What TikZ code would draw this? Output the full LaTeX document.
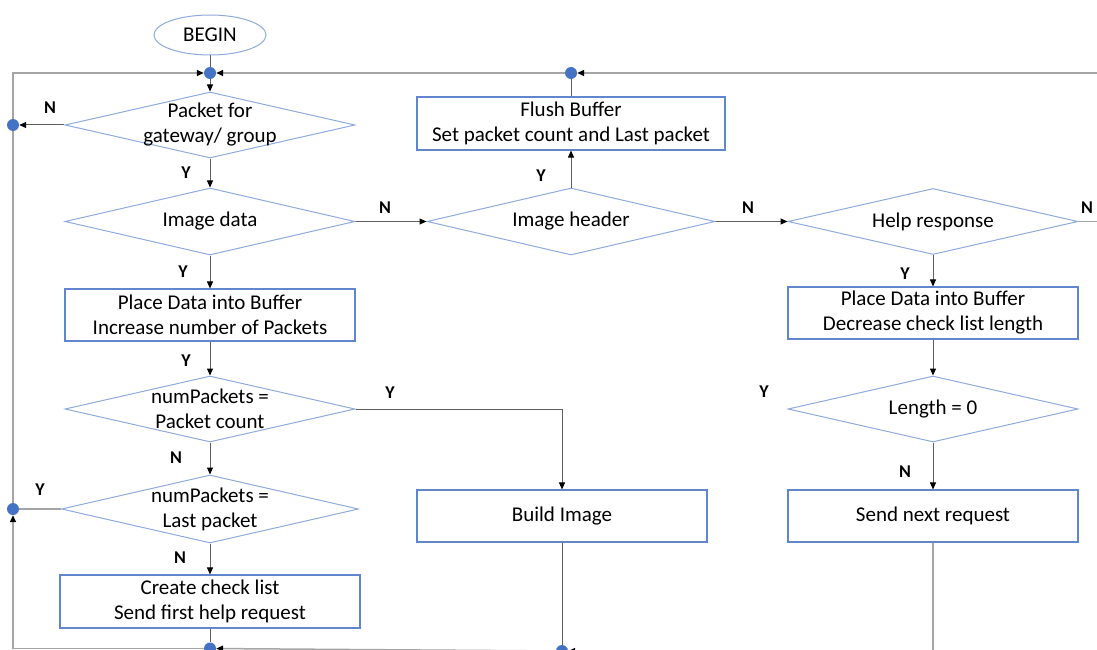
\documentclass[tikz,border=0pt]{standalone}
\usepackage{fontspec}
\setmainfont{Carlito}
\definecolor{blue1}{RGB}{68, 114, 196}
\definecolor{blue2}{RGB}{143, 170, 220}
\definecolor{gray1}{RGB}{95, 95, 95}
\definecolor{gray2}{RGB}{165, 165, 165}
\usepackage{tikz}
\usetikzlibrary{shapes.geometric, arrows.meta}

\tikzset{
  procbox/.style={draw=blue1!85, line width=1.1pt, minimum width=290pt, minimum height=52pt, align=center, inner sep=0pt, font=\fontsize{21}{25}\selectfont},
  decision/.style={diamond, draw=blue2, line width=1pt, minimum width=290pt, minimum height=66pt, inner sep=0pt},
  dtext/.style={align=center, inner sep=0pt, font=\fontsize{21}{25}\selectfont},
  jdot/.style={circle, fill=blue1, minimum size=12pt, inner sep=0pt},
  yn/.style={font=\fontsize{18}{20}\selectfont\bfseries},
  conn/.style={draw=gray1, line width=1pt},
  loopline/.style={draw=gray2, line width=1.5pt},
  arr/.style={-{Triangle[length=7pt, width=6pt, color=black]}}
}

\begin{document}
\begin{tikzpicture}[x=1pt, y=-1pt]
  \useasboundingbox (0,0) rectangle (1097,650);
  \clip (0,0) rectangle (1097,650);

  \node[ellipse, draw=blue2, line width=1pt, minimum width=112pt, minimum height=40pt, inner sep=0pt, font=\fontsize{21}{25}\selectfont] (begin) at (210,35) {BEGIN};

  \node[jdot] (jtop) at (210,73) {};
  \node[jdot] (jflush) at (571,73) {};
  \node[jdot] (jpkt) at (13,125) {};
  \node[jdot] (jlast) at (13,509) {};
  \node[jdot] (jcheck) at (210,648.5) {};
  \node[jdot] (jbimg) at (562,651) {};

  \node[decision, label={[dtext]center:Packet for\\gateway/ group}] (pkt) at (210,125) {};
  \node[decision, minimum height=67pt, label={[dtext]center:Image data}] (imgdata) at (210,221.5) {};
  \node[procbox] (buf1) at (210,315) {Place Data into Buffer\\Increase number of Packets};
  \node[decision, label={[dtext]center:numPackets =\\Packet count}] (pcount) at (210,409) {};
  \node[decision, minimum width=297pt, minimum height=68pt, label={[dtext]center:numPackets =\\Last packet}] (plast) at (210,509) {};
  \node[procbox, minimum width=300pt, minimum height=53pt] (check) at (210,601.5) {Create check list\\Send first help request};

  \node[decision, minimum width=288pt, minimum height=67pt, label={[dtext]center:Image header}] (imghdr) at (571,221.5) {};
  \node[procbox, minimum width=308pt, minimum height=53pt] (flush) at (571,123.5) {Flush Buffer\\Set packet count and Last packet};
  \node[procbox] (bimg) at (562,516) {Build Image};

  \node[decision, label={[dtext]center:Help response}] (help) at (933,221.5) {};
  \node[procbox] (buf2) at (933,313) {Place Data into Buffer\\Decrease check list length};
  \node[decision, label={[dtext]center:Length = 0}] (len0) at (933,409) {};
  \node[procbox] (sendnext) at (933,516) {Send next request};

  \draw[conn] (begin) -- (jtop);
  \draw[conn, arr] (jtop) -- (pkt);
  \draw[conn, arr] (pkt) -- (imgdata);
  \draw[conn, arr] (imgdata) -- (buf1);
  \draw[conn, arr] (buf1) -- (pcount);
  \draw[conn, arr] (pcount) -- (plast);
  \draw[conn, arr] (plast) -- (check);
  \draw[conn, arr] (imgdata) -- (imghdr);
  \draw[conn, arr] (imghdr) -- (flush);
  \draw[conn] (flush) -- (jflush);
  \draw[conn, arr] (imghdr) -- (help);
  \draw[conn, arr] (help) -- (buf2);
  \draw[conn, arr] (buf2) -- (len0);
  \draw[conn, arr] (len0) -- (sendnext);
  \draw[conn, arr] (pcount.east) -| (bimg);
  \draw[conn] (bimg) -- (jbimg);
  \draw[conn] (check) -- (jcheck);
  \draw[conn, arr] (pkt) -- (jpkt);

  \draw[loopline] (plast.west) -- (jlast);
  \draw[loopline] (jlast) -- (jpkt);
  \draw[loopline, arr] (jpkt) |- (jtop);
  \draw[loopline, arr] (jflush) -- (jtop);
  \draw[loopline, arr] (help.east) -- (1115,221.5) |- (jflush);
  \draw[loopline, arr] (sendnext) |- (jbimg);
  \draw[loopline, arr] (jbimg) -- (jcheck);
  \draw[loopline, arr] (jcheck) -| (jlast);

  \node[yn] (n1) at (50,108) {N};
  \node[yn] (y1) at (186,173) {Y};
  \node[yn] (n2) at (385,208) {N};
  \node[yn] (y2) at (541,176) {Y};
  \node[yn] (n3) at (748,208) {N};
  \node[yn] (n4) at (1087,208) {N};
  \node[yn] (y3) at (183,272) {Y};
  \node[yn] (y4) at (905,274) {Y};
  \node[yn] (y5) at (186,361) {Y};
  \node[yn] (y6) at (390,393) {Y};
  \node[yn] (y7) at (764,392) {Y};
  \node[yn] (n5) at (176,458) {N};
  \node[yn] (n6) at (905,472) {N};
  \node[yn] (y8) at (40,490) {Y};
  \node[yn] (n7) at (180,558) {N};
\end{tikzpicture}
\end{document}
